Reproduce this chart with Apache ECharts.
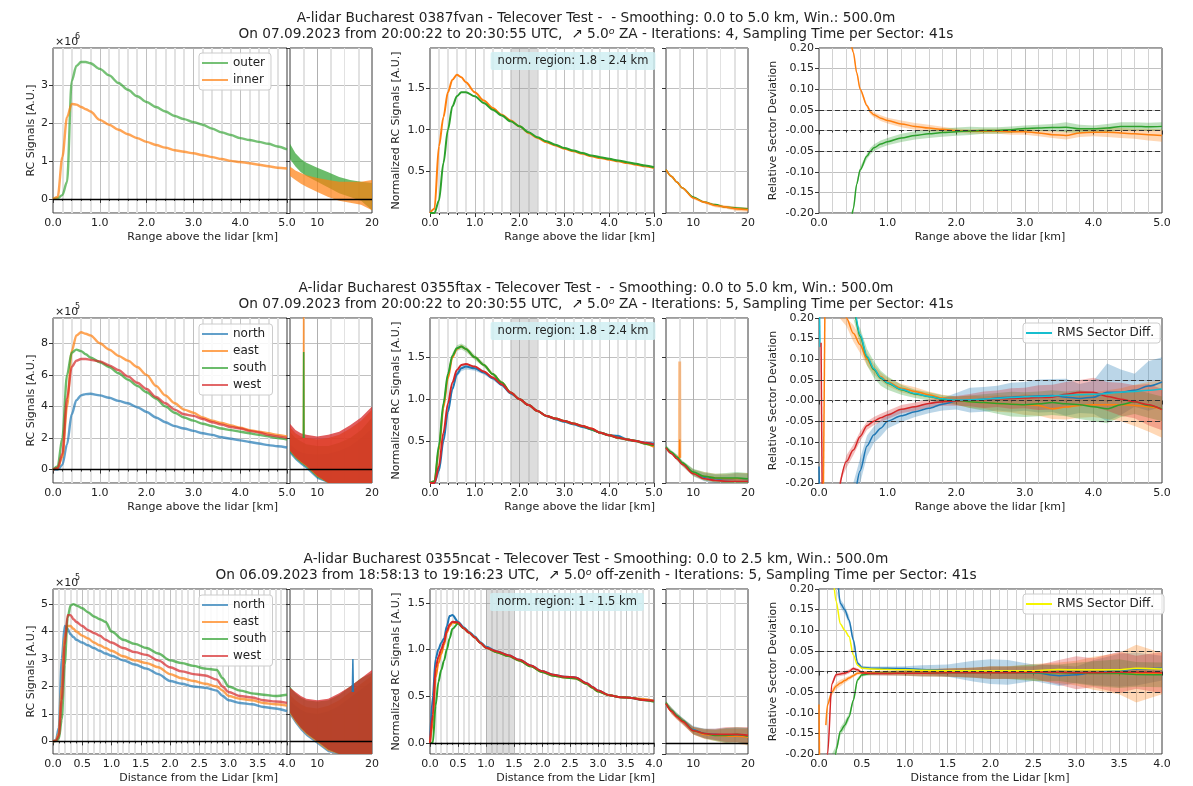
<!DOCTYPE html>
<html>
<head>
<meta charset="utf-8">
<script src="https://cdn.jsdelivr.net/npm/echarts/dist/echarts.min.js"></script>
<style>
html, body { margin: 0; padding: 0; background: #fff; }
#main { width: 1193px; height: 786px; }
</style>
</head>
<body>
<div id="main"></div>
<script>
var FONT = 'DejaVu Sans';
var BLUE = '#1f77b4', ORANGE = '#ff7f0e', GREEN = '#2ca02c', RED = '#d62728', CYAN = '#17becf', YELLOW = '#f5f500';

// ---------- titles / labels
var titleLine1 = [
  'A-lidar Bucharest 0387fvan - Telecover Test -  - Smoothing: 0.0 to 5.0 km, Win.: 500.0m',
  'A-lidar Bucharest 0355ftax - Telecover Test -  - Smoothing: 0.0 to 5.0 km, Win.: 500.0m',
  'A-lidar Bucharest 0355ncat - Telecover Test - Smoothing: 0.0 to 2.5 km, Win.: 500.0m'
];
var titleLine2a = [
  'On 07.09.2023 from 20:00:22 to 20:30:55 UTC,  \u2197 5.0',
  'On 07.09.2023 from 20:00:22 to 20:30:55 UTC,  \u2197 5.0',
  'On 06.09.2023 from 18:58:13 to 19:16:23 UTC,  \u2197 5.0'
];
var titleLine2b = [
  ' ZA - Iterations: 4, Sampling Time per Sector: 41s',
  ' ZA - Iterations: 5, Sampling Time per Sector: 41s',
  ' off-zenith - Iterations: 5, Sampling Time per Sector: 41s'
];
var xTitles = ['Range above the lidar [km]', 'Range above the lidar [km]', 'Distance from the Lidar [km]'];
var sigExponent = ['6', '5', '5'];
var normRegions = [[1.8, 2.4], [1.8, 2.4], [1.0, 1.5]];
var normLabels = ['norm. region: 1.8 - 2.4 km', 'norm. region: 1.8 - 2.4 km', 'norm. region: 1 - 1.5 km'];

// ---------- axis ranges
var rowXMax = [5, 5, 4];
var rowXStep = [1, 1, 0.5];
var sigMin = [-0.37, -0.85, -0.46], sigMax = [3.97, 9.6, 5.55];
var normMin = [0, 0, -0.12], normMax = [1.98, 1.97, 1.65];

// ---------- x grids (km)
var xNear5 = [0, 0.1, 0.2, 0.3, 0.4, 0.5, 0.6, 0.7, 0.8, 1.0, 1.2, 1.4, 1.6, 1.8, 2.0, 2.2, 2.4, 2.6, 2.8, 3.0, 3.2, 3.4, 3.6, 3.8, 4.0, 4.2, 4.4, 4.6, 4.8, 5.0];
var xNear4 = [0, 0.05, 0.1, 0.15, 0.2, 0.25, 0.3, 0.35, 0.4, 0.5, 0.6, 0.7, 0.8, 0.9, 1.0, 1.2, 1.4, 1.6, 1.8, 2.0, 2.2, 2.4, 2.6, 2.8, 2.9, 3.0, 3.2, 3.4, 3.6, 3.8, 4.0];
var xFar = [5, 6, 7, 8, 10, 12, 14, 16, 18, 20];

// ---------- row 1 (x1e6)
var r1Outer = [0, 0.02, 0.1, 0.45, 3.1, 3.5, 3.6, 3.6, 3.57, 3.42, 3.25, 3.05, 2.87, 2.7, 2.55, 2.42, 2.3, 2.18, 2.1, 2.02, 1.95, 1.85, 1.75, 1.68, 1.6, 1.55, 1.5, 1.45, 1.38, 1.3];
var r1Inner = [0, 0.05, 1.1, 2.15, 2.5, 2.48, 2.42, 2.36, 2.3, 2.08, 1.95, 1.82, 1.7, 1.6, 1.5, 1.42, 1.35, 1.28, 1.24, 1.2, 1.15, 1.1, 1.05, 1.0, 0.97, 0.94, 0.9, 0.86, 0.82, 0.8];
var r1FarOuterHi = [1.45, 1.2, 1.05, 0.95, 0.82, 0.7, 0.58, 0.5, 0.45, 0.42];
var r1FarOuterLo = [1.05, 0.85, 0.7, 0.6, 0.45, 0.3, 0.15, 0.05, -0.05, -0.3];
var r1FarInnerHi = [0.85, 0.75, 0.68, 0.62, 0.55, 0.5, 0.45, 0.45, 0.45, 0.5];
var r1FarInnerLo = [0.6, 0.5, 0.4, 0.32, 0.18, 0.05, -0.05, -0.1, -0.15, -0.3];
var r1NormInner = [0, 0.05, 0.8, 1.15, 1.45, 1.6, 1.66, 1.63, 1.57, 1.45, 1.35, 1.26, 1.18, 1.11, 1.04, 0.96, 0.9, 0.85, 0.81, 0.77, 0.74, 0.71, 0.68, 0.66, 0.64, 0.62, 0.6, 0.58, 0.56, 0.54];
var r1NormOuter = [0, 0, 0.15, 0.6, 1.0, 1.28, 1.4, 1.45, 1.45, 1.4, 1.32, 1.24, 1.17, 1.1, 1.04, 0.97, 0.91, 0.86, 0.82, 0.78, 0.75, 0.72, 0.69, 0.67, 0.65, 0.63, 0.61, 0.59, 0.57, 0.55];
var r1FarNormInner = [0.52, 0.44, 0.37, 0.3, 0.18, 0.13, 0.09, 0.07, 0.05, 0.04];
var r1FarNormOuter = [0.52, 0.44, 0.37, 0.3, 0.19, 0.13, 0.1, 0.07, 0.06, 0.05];
var r1FarNormSpread = [0.01, 0.01, 0.01, 0.012, 0.015, 0.015, 0.02, 0.02, 0.025, 0.025];
var xDev1 = [0.47, 0.5, 0.55, 0.6, 0.7, 0.75, 0.8, 0.9, 1.0, 1.2, 1.4, 1.6, 1.8, 2.0, 2.2, 2.4, 2.6, 2.8, 3.0, 3.2, 3.4, 3.6, 3.8, 4.0, 4.2, 4.4, 4.6, 4.8, 5.0];
var r1DevInner = [0.21, 0.19, 0.14, 0.1, 0.06, 0.045, 0.038, 0.03, 0.024, 0.016, 0.01, 0.006, 0.003, 0.0, -0.002, -0.002, -0.002, -0.003, -0.003, -0.006, -0.01, -0.012, -0.006, -0.004, -0.004, -0.006, -0.008, -0.01, -0.012];
var r1DevOuter = [-0.22, -0.19, -0.13, -0.095, -0.062, -0.05, -0.042, -0.033, -0.027, -0.018, -0.012, -0.008, -0.005, -0.003, -0.001, 0.0, 0.0, 0.002, 0.005, 0.006, 0.007, 0.008, 0.004, 0.004, 0.006, 0.01, 0.01, 0.009, 0.01];
var r1DevInnerSp = [0.005, 0.005, 0.005, 0.005, 0.005, 0.006, 0.006, 0.007, 0.007, 0.008, 0.008, 0.008, 0.006, 0.005, 0.005, 0.006, 0.006, 0.007, 0.007, 0.008, 0.008, 0.01, 0.01, 0.01, 0.012, 0.012, 0.012, 0.014, 0.015];
var r1DevOuterSp = [0.006, 0.006, 0.006, 0.007, 0.007, 0.008, 0.008, 0.009, 0.009, 0.01, 0.01, 0.01, 0.01, 0.01, 0.01, 0.008, 0.008, 0.008, 0.007, 0.008, 0.009, 0.012, 0.01, 0.008, 0.01, 0.01, 0.01, 0.01, 0.01];

// ---------- row 2 (x1e5)
var r2North = [0, 0.0, 0.3, 1.6, 3.5, 4.4, 4.7, 4.78, 4.8, 4.7, 4.55, 4.35, 4.2, 3.95, 3.65, 3.3, 3.0, 2.75, 2.6, 2.45, 2.3, 2.2, 2.05, 1.95, 1.85, 1.75, 1.65, 1.55, 1.48, 1.4];
var r2East = [0, 0.1, 0.8, 4.0, 7.5, 8.5, 8.7, 8.6, 8.5, 8.0, 7.6, 7.2, 6.9, 6.5, 6.0, 5.3, 4.7, 4.2, 3.8, 3.6, 3.3, 3.1, 2.95, 2.8, 2.65, 2.5, 2.4, 2.3, 2.2, 2.1];
var r2South = [0, 0.2, 2.0, 6.0, 7.4, 7.6, 7.5, 7.3, 7.1, 6.8, 6.5, 6.1, 5.7, 5.3, 4.9, 4.5, 4.0, 3.6, 3.3, 3.1, 2.9, 2.75, 2.6, 2.5, 2.4, 2.3, 2.2, 2.1, 2.0, 1.9];
var r2West = [0, 0.1, 1.0, 4.5, 6.5, 6.9, 7.0, 7.0, 6.95, 6.85, 6.6, 6.3, 5.9, 5.5, 5.1, 4.6, 4.2, 3.8, 3.5, 3.4, 3.2, 3.0, 2.85, 2.7, 2.6, 2.45, 2.35, 2.2, 2.1, 2.0];
var r2FarNorthHi = [1.6, 1.3, 1.1, 1.0, 0.95, 1.0, 1.2, 1.5, 2.0, 2.6];
var r2FarNorthLo = [1.0, 0.6, 0.3, 0.05, -0.6, -1.3, -1.5, -1.5, -1.5, -1.5];
var r2FarEastHi = [2.7, 2.3, 2.1, 2.0, 1.9, 2.0, 2.2, 2.6, 3.1, 3.8];
var r2FarEastLo = [1.2, 0.75, 0.45, 0.2, -0.45, -1.1, -1.5, -1.5, -1.5, -1.5];
var r2FarSouthHi = [2.4, 2.0, 1.8, 1.6, 1.5, 1.5, 1.7, 2.0, 2.5, 3.3];
var r2FarSouthLo = [1.1, 0.7, 0.4, 0.15, -0.5, -1.2, -1.5, -1.5, -1.5, -1.5];
var r2FarWestHi = [2.9, 2.5, 2.3, 2.2, 2.1, 2.2, 2.4, 2.8, 3.3, 4.0];
var r2FarWestLo = [1.2, 0.8, 0.5, 0.25, -0.4, -1.1, -1.5, -1.5, -1.5, -1.5];
var spikeX = [7.45, 7.5, 7.55];
var r2SpikeEast = [2.2, 12, 2.2];
var r2SpikeSouth = [2.0, 7.45, 2.0];
var r2NormEast = [0, 0.02, 0.4, 0.9, 1.25, 1.5, 1.6, 1.63, 1.6, 1.5, 1.41, 1.3, 1.2, 1.08, 1.0, 0.93, 0.86, 0.8, 0.77, 0.74, 0.71, 0.68, 0.65, 0.6, 0.57, 0.54, 0.52, 0.5, 0.47, 0.43];
var r2NormSouth = [0, 0.02, 0.45, 0.95, 1.3, 1.52, 1.61, 1.63, 1.6, 1.5, 1.41, 1.3, 1.2, 1.08, 1.0, 0.93, 0.86, 0.8, 0.77, 0.74, 0.71, 0.68, 0.64, 0.6, 0.57, 0.54, 0.52, 0.5, 0.47, 0.45];
var r2NormWest = [0, 0, 0.2, 0.6, 0.95, 1.2, 1.35, 1.41, 1.42, 1.39, 1.33, 1.26, 1.18, 1.08, 1.0, 0.93, 0.86, 0.8, 0.77, 0.74, 0.71, 0.68, 0.65, 0.6, 0.57, 0.54, 0.52, 0.5, 0.48, 0.46];
var r2NormNorth = [0, 0, 0.15, 0.5, 0.85, 1.12, 1.3, 1.37, 1.39, 1.37, 1.32, 1.25, 1.17, 1.07, 1.0, 0.93, 0.86, 0.8, 0.76, 0.73, 0.7, 0.67, 0.64, 0.6, 0.57, 0.56, 0.52, 0.5, 0.48, 0.47];
var r2NormSpread = [0, 0, 0.01, 0.02, 0.03, 0.03, 0.035, 0.035, 0.035, 0.03, 0.025, 0.02, 0.015, 0.01, 0.005, 0.005, 0.005, 0.01, 0.01, 0.01, 0.01, 0.01, 0.01, 0.015, 0.015, 0.02, 0.015, 0.015, 0.015, 0.015];
var r2FarNormNorth = [0.42, 0.36, 0.3, 0.23, 0.12, 0.07, 0.05, 0.04, 0.05, 0.04];
var r2FarNormEast = [0.42, 0.36, 0.3, 0.23, 0.12, 0.08, 0.06, 0.05, 0.05, 0.05];
var r2FarNormSouth = [0.43, 0.37, 0.31, 0.24, 0.13, 0.08, 0.06, 0.06, 0.06, 0.05];
var r2FarNormWest = [0.42, 0.35, 0.29, 0.22, 0.11, 0.05, 0.03, 0.02, 0.02, 0.02];
var r2FarNormSpread = [0.02, 0.02, 0.03, 0.03, 0.04, 0.05, 0.05, 0.06, 0.07, 0.07];
var r2FarSpikeEastBand = [0.3, 1.45, 0.3];
var r2FarSpikeEast = [0.3, 0.52, 0.3];
var xDev2 = [0.3, 0.4, 0.5, 0.6, 0.7, 0.8, 0.9, 1.0, 1.2, 1.4, 1.6, 1.8, 2.0, 2.2, 2.4, 2.6, 2.8, 3.0, 3.2, 3.4, 3.6, 3.8, 4.0, 4.2, 4.4, 4.6, 4.8, 5.0];
var r2DevSouth = [0.4, 0.32, 0.22, 0.155, 0.105, 0.075, 0.054, 0.042, 0.026, 0.016, 0.01, 0.003, 0.0, -0.003, -0.005, -0.007, -0.009, -0.01, -0.008, -0.005, -0.008, -0.01, -0.015, -0.02, -0.01, -0.003, -0.012, -0.02];
var r2DevRms = [0.4, 0.32, 0.23, 0.16, 0.107, 0.077, 0.056, 0.043, 0.027, 0.017, 0.01, 0.004, 0.001, 0.002, 0.003, 0.005, 0.007, 0.009, 0.01, 0.011, 0.013, 0.014, 0.015, 0.017, 0.02, 0.022, 0.025, 0.028];
var r2DevEast = [0.35, 0.2, 0.163, 0.135, 0.1, 0.075, 0.058, 0.045, 0.03, 0.022, 0.014, 0.006, 0.0, -0.003, -0.005, -0.007, -0.009, -0.01, -0.012, -0.02, -0.016, -0.012, -0.01, -0.01, -0.01, -0.012, -0.015, -0.02];
var r2DevWest = [-0.21, -0.148, -0.12, -0.087, -0.061, -0.05, -0.042, -0.035, -0.021, -0.015, -0.007, -0.003, -0.001, 0.001, 0.002, 0.004, 0.005, 0.006, 0.007, 0.008, 0.015, 0.02, 0.02, 0.01, 0.003, -0.003, -0.01, -0.022];
var r2DevNorth = [-0.5, -0.35, -0.24, -0.17, -0.11, -0.083, -0.067, -0.05, -0.037, -0.027, -0.019, -0.009, -0.002, 0.001, 0.003, 0.006, 0.008, 0.01, 0.011, 0.012, 0.008, 0.005, 0.008, 0.02, 0.02, 0.025, 0.035, 0.045];
var r2DevSouthSp = [0.02, 0.02, 0.02, 0.02, 0.02, 0.02, 0.018, 0.016, 0.012, 0.01, 0.01, 0.01, 0.01, 0.015, 0.02, 0.025, 0.03, 0.03, 0.03, 0.03, 0.03, 0.035, 0.035, 0.035, 0.03, 0.03, 0.03, 0.03];
var r2DevEastSp = [0.02, 0.02, 0.02, 0.02, 0.015, 0.012, 0.01, 0.01, 0.01, 0.01, 0.008, 0.008, 0.01, 0.015, 0.015, 0.02, 0.02, 0.025, 0.025, 0.025, 0.03, 0.03, 0.03, 0.035, 0.04, 0.05, 0.06, 0.07];
var r2DevWestSp = [0.015, 0.015, 0.013, 0.012, 0.01, 0.01, 0.01, 0.01, 0.01, 0.01, 0.01, 0.01, 0.012, 0.015, 0.02, 0.02, 0.025, 0.025, 0.03, 0.03, 0.03, 0.03, 0.035, 0.035, 0.04, 0.04, 0.05, 0.05];
var r2DevNorthSp = [0.03, 0.03, 0.03, 0.03, 0.025, 0.02, 0.02, 0.018, 0.015, 0.013, 0.012, 0.015, 0.02, 0.03, 0.03, 0.03, 0.035, 0.035, 0.04, 0.04, 0.045, 0.035, 0.04, 0.07, 0.055, 0.04, 0.06, 0.06];
var r2EdgeEastX = [0.06, 0.09], r2EdgeEast = [-0.3, 0.3];
var r2EdgeWestX = [0.03, 0.05], r2EdgeWest = [0.14, -0.3];
var r2EdgeRmsX = [0.0, 0.015], r2EdgeRms = [0.3, 0.13];
var r2EdgeNorthX = [0.0, 0.015], r2EdgeNorth = [-0.16, -0.3];

// ---------- row 3 (x1e5)
var r3North = [0, 0.05, 0.5, 3.0, 4.2, 4.1, 3.9, 3.8, 3.7, 3.6, 3.5, 3.4, 3.3, 3.2, 3.12, 2.95, 2.8, 2.65, 2.45, 2.2, 2.1, 2.0, 1.95, 1.85, 1.65, 1.5, 1.4, 1.35, 1.25, 1.2, 1.1];
var r3East = [0, 0.03, 0.3, 2.0, 3.8, 4.2, 4.2, 4.1, 4.0, 3.85, 3.75, 3.6, 3.5, 3.4, 3.3, 3.1, 2.95, 2.85, 2.7, 2.45, 2.3, 2.2, 2.1, 2.0, 1.85, 1.65, 1.55, 1.5, 1.4, 1.35, 1.3];
var r3South = [0, 0.01, 0.1, 0.8, 2.8, 4.5, 4.95, 5.0, 4.95, 4.85, 4.7, 4.55, 4.45, 4.35, 4.0, 3.7, 3.55, 3.4, 3.2, 2.95, 2.85, 2.75, 2.65, 2.6, 2.3, 2.0, 1.85, 1.75, 1.7, 1.65, 1.7];
var r3West = [0, 0.02, 0.2, 1.5, 3.5, 4.6, 4.6, 4.45, 4.35, 4.2, 4.05, 3.95, 3.85, 3.7, 3.6, 3.4, 3.25, 3.15, 2.95, 2.7, 2.55, 2.45, 2.4, 2.25, 2.0, 1.8, 1.65, 1.6, 1.5, 1.45, 1.4];
var r3FarNorthHi = [1.5, 1.3, 1.15, 1.05, 1.0, 1.1, 1.3, 1.6, 1.9, 2.2];
var r3FarNorthLo = [0.95, 0.65, 0.4, 0.2, -0.1, -0.4, -0.6, -0.6, -0.6, -0.6];
var r3FarEastHi = [1.7, 1.5, 1.35, 1.25, 1.2, 1.3, 1.5, 1.8, 2.1, 2.4];
var r3FarEastLo = [1.0, 0.7, 0.45, 0.25, -0.05, -0.35, -0.6, -0.6, -0.6, -0.6];
var r3FarSouthHi = [2.0, 1.75, 1.6, 1.5, 1.45, 1.5, 1.7, 2.0, 2.3, 2.5];
var r3FarSouthLo = [1.05, 0.75, 0.5, 0.3, 0.0, -0.3, -0.55, -0.6, -0.6, -0.6];
var r3FarWestHi = [1.95, 1.8, 1.65, 1.55, 1.5, 1.55, 1.75, 2.0, 2.3, 2.6];
var r3FarWestLo = [1.05, 0.75, 0.5, 0.3, 0.0, -0.3, -0.5, -0.6, -0.6, -0.6];
var r3SpikeX = [16.4, 16.5, 16.6];
var r3SpikeNorth = [1.8, 3.0, 1.8];
var r3NormNorth = [0, 0.5, 0.9, 1.0, 1.07, 1.12, 1.25, 1.36, 1.37, 1.3, 1.24, 1.19, 1.14, 1.08, 1.03, 0.98, 0.94, 0.89, 0.83, 0.77, 0.73, 0.71, 0.7, 0.64, 0.6, 0.56, 0.51, 0.49, 0.48, 0.46, 0.45];
var r3NormWest = [0, 0.3, 0.8, 0.92, 1.0, 1.08, 1.2, 1.27, 1.3, 1.29, 1.23, 1.18, 1.13, 1.07, 1.02, 0.98, 0.94, 0.89, 0.83, 0.77, 0.73, 0.71, 0.7, 0.64, 0.6, 0.56, 0.51, 0.49, 0.48, 0.46, 0.45];
var r3NormEast = [0, 0.2, 0.7, 0.85, 0.95, 1.05, 1.18, 1.25, 1.29, 1.28, 1.23, 1.18, 1.13, 1.07, 1.02, 0.97, 0.93, 0.88, 0.82, 0.76, 0.72, 0.7, 0.69, 0.63, 0.59, 0.55, 0.51, 0.49, 0.48, 0.47, 0.45];
var r3NormSouth = [0, 0, 0.4, 0.65, 0.78, 0.88, 1.0, 1.12, 1.22, 1.28, 1.23, 1.18, 1.13, 1.07, 1.02, 0.97, 0.93, 0.88, 0.82, 0.76, 0.72, 0.7, 0.69, 0.63, 0.59, 0.55, 0.51, 0.49, 0.48, 0.46, 0.44];
var r3FarNormNorth = [0.42, 0.35, 0.29, 0.24, 0.14, 0.1, 0.09, 0.08, 0.08, 0.07];
var r3FarNormEast = [0.42, 0.34, 0.28, 0.23, 0.13, 0.09, 0.08, 0.07, 0.07, 0.06];
var r3FarNormSouth = [0.43, 0.35, 0.29, 0.24, 0.13, 0.1, 0.08, 0.08, 0.09, 0.07];
var r3FarNormWest = [0.42, 0.34, 0.28, 0.23, 0.13, 0.1, 0.09, 0.09, 0.09, 0.08];
var r3FarNormSpread = [0.02, 0.03, 0.03, 0.03, 0.04, 0.05, 0.06, 0.08, 0.08, 0.09];
var xDev3 = [0.08, 0.1, 0.15, 0.2, 0.25, 0.3, 0.35, 0.4, 0.45, 0.5, 0.6, 0.8, 1.0, 1.2, 1.5, 1.8, 2.0, 2.2, 2.5, 2.8, 3.0, 3.2, 3.5, 3.7, 4.0];
var r3DevRms = [0.8, 0.6, 0.25, 0.17, 0.115, 0.1, 0.085, 0.04, 0.015, 0.008, 0.006, 0.005, 0.004, 0.003, 0.002, 0.002, 0.002, 0.002, 0.002, 0.005, 0.004, 0.004, 0.004, 0.008, 0.006];
var r3DevNorth = [0.8, 0.6, 0.4, 0.25, 0.165, 0.15, 0.125, 0.077, 0.02, 0.01, 0.008, 0.008, 0.007, 0.005, 0.002, 0.001, 0.0, -0.002, -0.003, -0.01, -0.008, -0.003, 0.003, 0.006, 0.008];
var r3DevWest = [-0.3, -0.2, -0.03, -0.008, -0.006, -0.004, 0.0, 0.007, 0.004, -0.003, -0.005, -0.005, -0.004, -0.004, -0.003, -0.003, -0.003, -0.003, -0.002, -0.002, -0.003, -0.003, -0.002, -0.002, -0.003];
var r3DevEast = [-0.13, -0.08, -0.05, -0.035, -0.028, -0.022, -0.016, -0.01, -0.004, -0.003, -0.003, -0.003, -0.003, -0.002, -0.002, -0.002, -0.002, -0.002, -0.002, -0.003, -0.004, -0.004, -0.005, -0.005, -0.005];
var r3DevSouth = [-0.8, -0.6, -0.35, -0.19, -0.145, -0.13, -0.11, -0.07, -0.02, -0.008, -0.005, -0.004, -0.004, -0.004, -0.003, -0.003, -0.003, -0.003, -0.003, -0.003, -0.004, -0.005, -0.005, -0.007, -0.008];
var r3DevNorthSp = [0.01, 0.01, 0.01, 0.01, 0.01, 0.01, 0.01, 0.01, 0.006, 0.004, 0.004, 0.004, 0.006, 0.01, 0.015, 0.025, 0.03, 0.03, 0.02, 0.025, 0.02, 0.03, 0.04, 0.04, 0.03];
var r3DevEastSp = [0.008, 0.008, 0.008, 0.008, 0.008, 0.006, 0.005, 0.004, 0.004, 0.004, 0.004, 0.005, 0.006, 0.008, 0.01, 0.012, 0.015, 0.015, 0.02, 0.025, 0.03, 0.04, 0.05, 0.07, 0.05];
var r3DevWestSp = [0.005, 0.005, 0.005, 0.005, 0.005, 0.005, 0.005, 0.004, 0.004, 0.004, 0.004, 0.005, 0.006, 0.008, 0.01, 0.012, 0.015, 0.015, 0.015, 0.03, 0.04, 0.035, 0.05, 0.04, 0.05];
var r3DevSouthSp = [0.01, 0.01, 0.01, 0.01, 0.01, 0.01, 0.008, 0.006, 0.005, 0.004, 0.004, 0.005, 0.006, 0.008, 0.01, 0.012, 0.015, 0.015, 0.02, 0.02, 0.025, 0.03, 0.035, 0.03, 0.03];
var r3EdgeEastX = [0.0, 0.01], r3EdgeEast = [-0.08, -0.3];

// ---------- layout (px)
var rowTop = [48, 318, 589];
var rowH = 165;
var panelLeft = [53, 290, 430, 666, 819];
var panelW = [234, 82, 224, 82, 343];

var grid = [], xAxis = [], yAxis = [], series = [], graphic = [];
var txtColor = '#222';
var NONE = 'rgba(0,0,0,0)';

// split-line colours per tick, with the two frame edges left out
function edgeFree(n, color) {
  var c = [];
  for (var k = 0; k < n; k++) c.push(k === 0 || k === n - 1 ? NONE : color);
  return c;
}

function makeX(r, p, g) {
  var ax = {
    type: 'value', gridIndex: g,
    axisLine: { show: false },
    axisTick: { show: true, length: 4, lineStyle: { color: '#333' } },
    axisLabel: { fontSize: 11, fontFamily: FONT, color: txtColor, margin: 5 },
    splitLine: { show: true, lineStyle: { color: '#b0b0b0', width: 0.8 } },
    minorTick: { show: true, splitNumber: 5, length: 2, lineStyle: { color: '#333' } },
    minorSplitLine: { show: true, lineStyle: { color: p === 4 ? '#d2d2d2' : '#e2e2e2', width: p === 4 ? 1 : 2 } }
  };
  if (p === 1 || p === 3) {
    ax.min = 5; ax.max = 20; ax.interval = 5;
    ax.axisLabel.formatter = function (v) { return (v === 10 || v === 20) ? String(v) : ''; };
    ax.axisTick.show = false;
    ax.minorTick = { show: false, splitNumber: 2 };
    ax.splitLine.lineStyle.color = [NONE, '#b0b0b0', '#e2e2e2', NONE];
    ax.splitLine.lineStyle.width = 1;
  } else {
    ax.min = 0; ax.max = rowXMax[r]; ax.interval = rowXStep[r];
    ax.axisLabel.formatter = function (v) { return v.toFixed(1); };
    ax.splitLine.lineStyle.color = edgeFree(Math.round(rowXMax[r] / rowXStep[r]) + 1, '#b0b0b0');
  }
  return ax;
}

function makeY(r, p, g) {
  var ax = {
    type: 'value', gridIndex: g,
    axisLine: { show: false },
    axisTick: { show: true, length: 4, lineStyle: { color: '#333' } },
    axisLabel: { fontSize: 11, fontFamily: FONT, color: txtColor, margin: 5, showMinLabel: false, showMaxLabel: false },
    splitLine: { show: true, lineStyle: { color: '#b0b0b0', width: 0.8 } },
    nameLocation: 'middle',
    nameTextStyle: { fontSize: 11, fontFamily: FONT, color: txtColor }
  };
  if (p <= 1) {
    ax.min = sigMin[r]; ax.max = sigMax[r]; ax.splitNumber = 5;
    ax.axisLabel.formatter = function (v) { return String(Math.round(v)); };
  } else if (p <= 3) {
    ax.min = normMin[r]; ax.max = normMax[r]; ax.splitNumber = 4;
    ax.axisLabel.formatter = function (v) { return v.toFixed(1); };
  } else {
    ax.min = -0.2; ax.max = 0.2; ax.interval = 0.05;
    ax.axisLabel.showMinLabel = true; ax.axisLabel.showMaxLabel = true;
    ax.axisLabel.formatter = function (v) {
      var s = v.toFixed(2);
      return (s === '0.00' || s === '-0.00') ? '-0.00' : s;
    };
  }
  if (p === 1 || p === 3) ax.axisLabel.show = false;
  if (p === 0) { ax.name = 'RC Signals [A.U.]'; ax.nameGap = 15; }
  if (p === 2) { ax.name = 'Normalized RC Signals [A.U.]'; ax.nameGap = 28; }
  if (p === 4) { ax.name = 'Relative Sector Deviation'; ax.nameGap = 40; }
  return ax;
}

for (var r = 0; r < 3; r++) {
  for (var p = 0; p < 5; p++) {
    grid.push({ left: panelLeft[p], top: rowTop[r], width: panelW[p], height: rowH,
      show: true, borderColor: '#3a3a3a', borderWidth: 1, backgroundColor: '#fff' });
    xAxis.push(makeX(r, p, grid.length - 1));
    yAxis.push(makeY(r, p, grid.length - 1));
  }
}

// ---------- series helpers
function pairs(xs, ys) { return xs.map(function (x, i) { return [x, ys[i]]; }); }

function addLine(g, name, xs, ys, color, width, opacity, smooth) {
  series.push({
    type: 'line', name: name, xAxisIndex: g, yAxisIndex: g, data: pairs(xs, ys),
    symbol: 'none', showSymbol: false, smooth: smooth === undefined ? 0.3 : smooth, smoothMonotone: 'x',
    lineStyle: { color: color, width: width, opacity: opacity },
    itemStyle: { color: color, opacity: opacity },
    silent: true, animation: false
  });
}

// filled band between lo and hi, drawn as one polygon through the axes
function addBand(g, xs, lo, hi, color, opacity) {
  var rows = xs.map(function (x, i) { return [x, lo[i], hi[i]]; });
  series.push({
    type: 'custom', xAxisIndex: g, yAxisIndex: g, data: rows, silent: true, animation: false, clip: true,
    encode: { x: 0, y: [1, 2] },
    renderItem: function (params, api) {
      if (params.dataIndex !== 0) return null;
      var upper = [], lower = [];
      for (var i = 0; i < rows.length; i++) {
        upper.push(api.coord([rows[i][0], rows[i][2]]));
        lower.push(api.coord([rows[i][0], rows[i][1]]));
      }
      var cs = params.coordSys;
      var poly = echarts.graphic.clipPointsByRect(upper.concat(lower.reverse()),
        { x: cs.x, y: cs.y, width: cs.width, height: cs.height });
      return { type: 'polygon', shape: { points: poly }, style: { fill: color, opacity: opacity } };
    }
  });
}

function addSpread(g, xs, ys, sp, color, opacity) {
  addBand(g, xs, ys.map(function (y, i) { return y - sp[i]; }), ys.map(function (y, i) { return y + sp[i]; }), color, opacity);
}

function addRef(g, values, dashed) {
  series.push({ type: 'line', xAxisIndex: g, yAxisIndex: g, data: [], silent: true, animation: false,
    markLine: { silent: true, symbol: ['none', 'none'], animation: false, label: { show: false },
      lineStyle: { color: dashed ? '#333' : '#000', width: dashed ? 1.2 : 1.3, type: dashed ? [5, 3] : 'solid' },
      data: values.map(function (v) { return { yAxis: v }; }) } });
}

function addRegion(g, range) {
  series.push({ type: 'line', xAxisIndex: g, yAxisIndex: g, data: [], silent: true, animation: false,
    markArea: { silent: true, animation: false, itemStyle: { color: 'rgba(150,150,150,0.32)' },
      data: [[{ xAxis: range[0] }, { xAxis: range[1] }]] } });
}

// ---------- row 1
addLine(0, 'outer', xNear5, r1Outer, GREEN, 2.4, 0.65);
addLine(0, 'inner', xNear5, r1Inner, ORANGE, 2.4, 0.7);
addRef(0, [0]);
addBand(1, xFar, r1FarOuterLo, r1FarOuterHi, GREEN, 0.7);
addBand(1, xFar, r1FarInnerLo, r1FarInnerHi, ORANGE, 0.7);
addRef(1, [0]);
addRegion(2, normRegions[0]);
addLine(2, 'inner-n', xNear5, r1NormInner, ORANGE, 2, 1);
addLine(2, 'outer-n', xNear5, r1NormOuter, GREEN, 2, 1);
addSpread(3, xFar, r1FarNormInner, r1FarNormSpread, ORANGE, 0.35);
addLine(3, 'outer-f', xFar, r1FarNormOuter, GREEN, 1.6, 1);
addLine(3, 'inner-f', xFar, r1FarNormInner, ORANGE, 1.6, 1);
addSpread(4, xDev1, r1DevInner, r1DevInnerSp, ORANGE, 0.3);
addSpread(4, xDev1, r1DevOuter, r1DevOuterSp, GREEN, 0.3);
addLine(4, 'inner-d', xDev1, r1DevInner, ORANGE, 1.5, 1);
addLine(4, 'outer-d', xDev1, r1DevOuter, GREEN, 1.5, 1);
addRef(4, [-0.05, 0, 0.05], true);

// ---------- row 2
addLine(5, 'north', xNear5, r2North, BLUE, 2.4, 0.7);
addLine(5, 'east', xNear5, r2East, ORANGE, 2.4, 0.7);
addLine(5, 'south', xNear5, r2South, GREEN, 2.4, 0.7);
addLine(5, 'west', xNear5, r2West, RED, 2.4, 0.7);
addRef(5, [0]);
addBand(6, xFar, r2FarNorthLo, r2FarNorthHi, BLUE, 0.7);
addBand(6, xFar, r2FarSouthLo, r2FarSouthHi, GREEN, 0.7);
addBand(6, xFar, r2FarEastLo, r2FarEastHi, ORANGE, 0.7);
addLine(6, 'east-spike', spikeX, r2SpikeEast, ORANGE, 1.5, 0.8, false);
addLine(6, 'south-spike', spikeX, r2SpikeSouth, GREEN, 1.5, 0.9, false);
addBand(6, xFar, r2FarWestLo, r2FarWestHi, RED, 0.75);
addRef(6, [0]);
addRegion(7, normRegions[1]);
addSpread(7, xNear5, r2NormNorth, r2NormSpread, BLUE, 0.3);
addSpread(7, xNear5, r2NormSouth, r2NormSpread, GREEN, 0.3);
addLine(7, 'north-n', xNear5, r2NormNorth, BLUE, 2, 1);
addLine(7, 'east-n', xNear5, r2NormEast, ORANGE, 2, 1);
addLine(7, 'south-n', xNear5, r2NormSouth, GREEN, 2, 1);
addLine(7, 'west-n', xNear5, r2NormWest, RED, 2, 1);
addSpread(8, xFar, r2FarNormNorth, r2FarNormSpread, BLUE, 0.3);
addSpread(8, xFar, r2FarNormEast, r2FarNormSpread, ORANGE, 0.3);
addSpread(8, xFar, r2FarNormSouth, r2FarNormSpread, GREEN, 0.3);
addLine(8, 'east-fspike', spikeX, r2FarSpikeEastBand, ORANGE, 3, 0.45, false);
addLine(8, 'east-fspike2', spikeX, r2FarSpikeEast, ORANGE, 1.5, 1, false);
addLine(8, 'north-f', xFar, r2FarNormNorth, BLUE, 1.6, 1);
addLine(8, 'east-f', xFar, r2FarNormEast, ORANGE, 1.6, 1);
addLine(8, 'south-f', xFar, r2FarNormSouth, GREEN, 1.6, 1);
addLine(8, 'west-f', xFar, r2FarNormWest, RED, 1.6, 1);
addSpread(9, xDev2, r2DevNorth, r2DevNorthSp, BLUE, 0.3);
addSpread(9, xDev2, r2DevEast, r2DevEastSp, ORANGE, 0.3);
addSpread(9, xDev2, r2DevSouth, r2DevSouthSp, GREEN, 0.3);
addSpread(9, xDev2, r2DevWest, r2DevWestSp, RED, 0.3);
addLine(9, 'north-d', xDev2, r2DevNorth, BLUE, 1.5, 1);
addLine(9, 'east-d', xDev2, r2DevEast, ORANGE, 1.5, 1);
addLine(9, 'south-d', xDev2, r2DevSouth, GREEN, 1.5, 1);
addLine(9, 'west-d', xDev2, r2DevWest, RED, 1.5, 1);
addLine(9, 'RMS Sector Diff.', xDev2, r2DevRms, CYAN, 1.5, 1);
addLine(9, 'north-e', r2EdgeNorthX, r2EdgeNorth, BLUE, 1.5, 1, false);
addLine(9, 'rms-e', r2EdgeRmsX, r2EdgeRms, CYAN, 1.5, 1, false);
addLine(9, 'west-e', r2EdgeWestX, r2EdgeWest, RED, 1.5, 1, false);
addLine(9, 'east-e', r2EdgeEastX, r2EdgeEast, ORANGE, 1.5, 1, false);
addRef(9, [-0.05, 0, 0.05], true);

// ---------- row 3
addLine(10, 'north', xNear4, r3North, BLUE, 2.4, 0.7);
addLine(10, 'east', xNear4, r3East, ORANGE, 2.4, 0.7);
addLine(10, 'south', xNear4, r3South, GREEN, 2.4, 0.7);
addLine(10, 'west', xNear4, r3West, RED, 2.4, 0.7);
addRef(10, [0]);
addBand(11, xFar, r3FarNorthLo, r3FarNorthHi, BLUE, 0.7);
addBand(11, xFar, r3FarEastLo, r3FarEastHi, ORANGE, 0.7);
addBand(11, xFar, r3FarSouthLo, r3FarSouthHi, GREEN, 0.7);
addLine(11, 'north-spike', r3SpikeX, r3SpikeNorth, BLUE, 1.5, 0.9, false);
addBand(11, xFar, r3FarWestLo, r3FarWestHi, RED, 0.75);
addRef(11, [0]);
addRegion(12, normRegions[2]);
addLine(12, 'north-n3', xNear4, r3NormNorth, BLUE, 2, 1);
addLine(12, 'east-n3', xNear4, r3NormEast, ORANGE, 2, 1);
addLine(12, 'south-n3', xNear4, r3NormSouth, GREEN, 2, 1);
addLine(12, 'west-n3', xNear4, r3NormWest, RED, 2, 1);
addRef(12, [0]);
addSpread(13, xFar, r3FarNormNorth, r3FarNormSpread, BLUE, 0.3);
addSpread(13, xFar, r3FarNormEast, r3FarNormSpread, ORANGE, 0.3);
addSpread(13, xFar, r3FarNormSouth, r3FarNormSpread, GREEN, 0.3);
addSpread(13, xFar, r3FarNormWest, r3FarNormSpread, RED, 0.3);
addLine(13, 'north-f3', xFar, r3FarNormNorth, BLUE, 1.6, 1);
addLine(13, 'east-f3', xFar, r3FarNormEast, ORANGE, 1.6, 1);
addLine(13, 'south-f3', xFar, r3FarNormSouth, GREEN, 1.6, 1);
addLine(13, 'west-f3', xFar, r3FarNormWest, RED, 1.6, 1);
addRef(13, [0]);
addSpread(14, xDev3, r3DevNorth, r3DevNorthSp, BLUE, 0.3);
addSpread(14, xDev3, r3DevEast, r3DevEastSp, ORANGE, 0.3);
addSpread(14, xDev3, r3DevSouth, r3DevSouthSp, GREEN, 0.3);
addSpread(14, xDev3, r3DevWest, r3DevWestSp, RED, 0.3);
addLine(14, 'north-d3', xDev3, r3DevNorth, BLUE, 1.5, 1);
addLine(14, 'east-d3', xDev3, r3DevEast, ORANGE, 1.5, 1);
addLine(14, 'south-d3', xDev3, r3DevSouth, GREEN, 1.5, 1);
addLine(14, 'west-d3', xDev3, r3DevWest, RED, 1.5, 1);
addLine(14, 'east-e3', r3EdgeEastX, r3EdgeEast, ORANGE, 1.5, 1, false);
addLine(14, 'RMS Sector Diff. ', xDev3, r3DevRms, YELLOW, 1.5, 1);
addRef(14, [-0.05, 0, 0.05], true);

// ---------- legends
function legendCfg(names, left, topPx) {
  return {
    data: names, left: left, top: topPx, orient: 'vertical', selectedMode: false,
    icon: 'rect', itemWidth: 26, itemHeight: 2, itemGap: 5,
    padding: [4, 6, 4, 3], backgroundColor: 'rgba(255,255,255,0.85)',
    borderColor: '#cccccc', borderWidth: 1, borderRadius: 3,
    textStyle: { fontSize: 12, fontFamily: FONT, color: txtColor }
  };
}
var legend = [
  legendCfg(['outer', 'inner'], 199, 53),
  legendCfg(['north', 'east', 'south', 'west'], 199, 324),
  legendCfg(['north', 'east', 'south', 'west'], 199, 595),
  legendCfg(['RMS Sector Diff.'], 1023, 323),
  legendCfg(['RMS Sector Diff. '], 1023, 594)
];

// ---------- text graphics
function addText(x, y, text, size, align, extra) {
  var st = { text: text, x: x, y: y, fill: txtColor, fontSize: size, fontFamily: FONT,
    align: align, textAlign: align, verticalAlign: 'middle', textVerticalAlign: 'middle' };
  if (extra) { for (var k in extra) st[k] = extra[k]; }
  graphic.push({ type: 'text', silent: true, z: 100, style: st });
}

var titleY = [18, 288, 559];
var titleSize = 13.7;
for (var i = 0; i < 3; i++) {
  var y0 = rowTop[i], y1 = rowTop[i] + rowH;
  addText(596, titleY[i], titleLine1[i], titleSize, 'center');
  addText(596, titleY[i] + 16,
    '{n|' + titleLine2a[i] + '}{s|o}{n|' + titleLine2b[i] + '}', titleSize, 'center', {
      rich: {
        n: { fontSize: titleSize, fontFamily: FONT, fill: txtColor },
        s: { fontSize: 9.5, fontFamily: FONT, fontStyle: 'italic', fill: txtColor, verticalAlign: 'top' }
      }
    });
  addText(55, y0 - 6, '\u00d710', 11, 'left');
  addText(75, y0 - 11, sigExponent[i], 8, 'left');
  addText(i === 2 ? 567 : 573, y0 + 13, normLabels[i], 11.5, 'center', {
    backgroundColor: 'rgba(208,238,242,0.85)', padding: [3, 7, 3, 7], borderRadius: 2
  });
  addText(278, y1 + 24, xTitles[i], 11, 'right');
  addText(655, y1 + 24, xTitles[i], 11, 'right');
  addText(990, y1 + 24, xTitles[i], 11, 'center');
}

var chart = echarts.init(document.getElementById('main'));
chart.setOption({
  animation: false,
  backgroundColor: '#fff',
  grid: grid,
  xAxis: xAxis,
  yAxis: yAxis,
  legend: legend,
  graphic: graphic,
  series: series
});
</script>
</body>
</html>
